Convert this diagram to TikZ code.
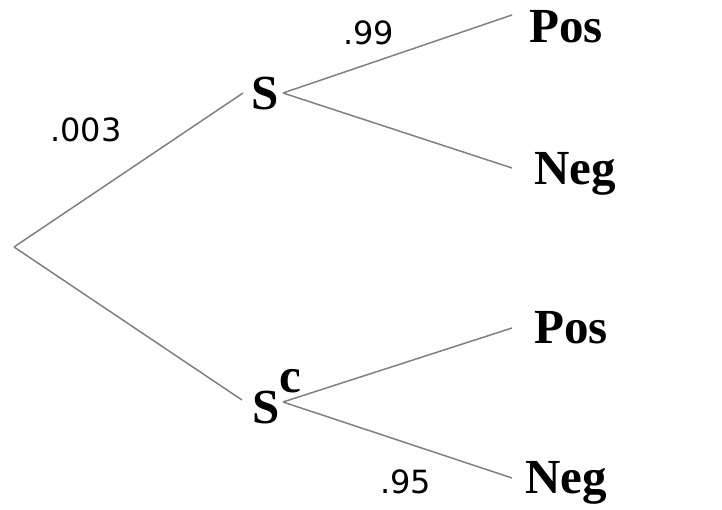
\documentclass[tikz,border=0pt]{standalone}
\usepackage{fontspec}
\setmainfont{Liberation Serif}
\newfontfamily\numfont{DejaVu Sans}
\begin{document}
\begin{tikzpicture}[x=1pt,y=1pt,
  lbl/.style={inner sep=0pt,anchor=base west,font=\fontsize{49}{49}\selectfont\bfseries},
  prob/.style={inner sep=0pt,anchor=base west,font=\fontsize{32}{32}\numfont},
  branch/.style={draw=black!50,line width=1.5pt}]
\useasboundingbox (0,0) rectangle (722,509);
\coordinate (root) at (14,262);
\node[lbl] (s1) at (251,399) {S};
\node[lbl] (s2) at (252,86) {S\raisebox{31pt}{c}};
\node[lbl] (pos1) at (529,466) {Pos};
\node[lbl] (neg1) at (534,324) {Neg};
\node[lbl] (pos2) at (534,166) {Pos};
\node[lbl] (neg2) at (525,16) {Neg};
\node[prob] (p003) at (50,367) {.003};
\node[prob] (p99) at (343,464) {.99};
\node[prob] (p95) at (380,16) {.95};
\draw[branch] (root) -- ([shift={(-8,17)}]s1.base west);
\draw[branch] (root) -- ([shift={(-10,23)}]s2.base west);
\draw[branch] ([shift={(32,17)}]s1.base west) -- ([shift={(-17,28)}]pos1.base west);
\draw[branch] ([shift={(32,17)}]s1.base west) -- ([shift={(-22,17)}]neg1.base west);
\draw[branch] ([shift={(31,21)}]s2.base west) -- ([shift={(-22,15)}]pos2.base west);
\draw[branch] ([shift={(31,21)}]s2.base west) -- ([shift={(-13,15)}]neg2.base west);
\end{tikzpicture}
\end{document}
